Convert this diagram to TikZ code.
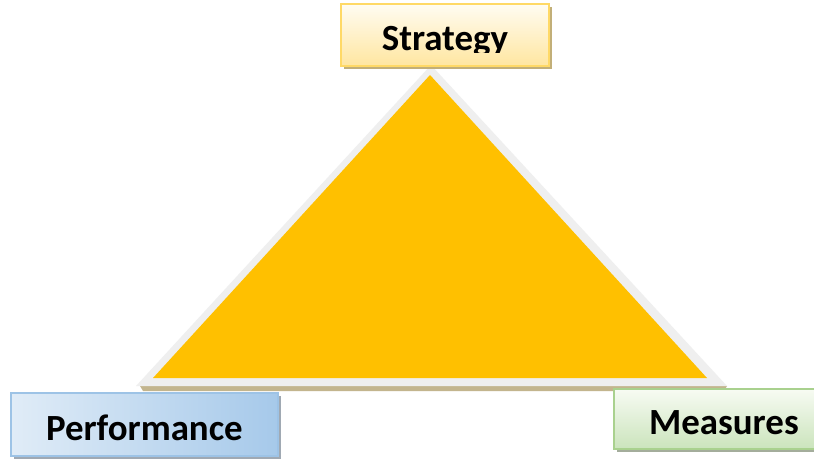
\documentclass[tikz,border=0pt]{standalone}
\usepackage{fontspec}
\setmainfont{Carlito}
\usetikzlibrary{shapes,positioning,calc,shadows}
\definecolor{tri}{HTML}{FFC000}
\definecolor{trib}{HTML}{EFEFEF}
\definecolor{tris}{HTML}{C3B58E}
\definecolor{ys1}{HTML}{FFFCF2}
\definecolor{ys2}{HTML}{FFE6A0}
\definecolor{yd}{HTML}{FFD966}
\definecolor{ysh}{HTML}{C2AF78}
\definecolor{bs1}{HTML}{E0ECF7}
\definecolor{bs2}{HTML}{A6C9EA}
\definecolor{bd}{HTML}{9DC3E6}
\definecolor{bsh}{HTML}{A0A9B3}
\definecolor{gs1}{HTML}{F7FBF3}
\definecolor{gs2}{HTML}{CBE4BC}
\definecolor{gd}{HTML}{A9D18E}
\definecolor{gsh}{HTML}{A4AD9C}

\begin{document}
\begin{tikzpicture}[x=0.02cm, y=-0.02cm,
      lbl/.style = {font=\fontsize{21}{25}\selectfont\bfseries, text height=18pt, text depth=0pt, inner sep=0pt},
      box/.style = {rectangle, lbl, line width=1.1pt, anchor=north west},
      bxs/.style = {box, draw=yd, top color=ys1, bottom color=ys2,
        drop shadow={shadow xshift=0.06cm, shadow yshift=-0.06cm, fill=ysh, opacity=1}},
      bxp/.style = {box, draw=bd, left color=bs1, right color=bs2,
        drop shadow={shadow xshift=0.06cm, shadow yshift=-0.06cm, fill=bsh, opacity=1}},
      bxm/.style = {box, draw=gd, top color=gs1, bottom color=gs2,
        drop shadow={shadow xshift=0.06cm, shadow yshift=-0.06cm, fill=gsh, opacity=1}}
      ]
      \clip (0,0) rectangle (814,459);
      \fill[white] (0,0) rectangle (814,459);

      % triangle
      \coordinate (otop) at (431,65);
      \coordinate (oleft) at (136,386);
      \coordinate (oright) at (727,386);
      \coordinate (itop) at (430,75);
      \coordinate (ileft) at (153,378);
      \coordinate (iright) at (707,378);
      \fill[tris] ($(oleft)+(4,0)$) -- (oright) -- ($(oright)+(-3,5)$) -- ($(oleft)+(7,5)$) -- cycle;
      \fill[trib] (otop) -- (oright) -- (oleft) -- cycle;
      \fill[tri] (itop) -- (iright) -- (ileft) -- cycle;

      % boxes
      \node[bxs, minimum width=4.16cm, minimum height=1.24cm] (strategy) at (340,3) {};
      \begin{scope}
        \clip (340,3) rectangle (548,53);
        \node[lbl] (strategytext) at (strategy) {Strategy};
      \end{scope}
      \node[bxp, minimum width=5.34cm, minimum height=1.26cm] (performance) at (10,392) {Performance};
      \node[bxm, minimum width=4.4cm, minimum height=1.2cm] (measures) at (613,388) {Measures};
    \end{tikzpicture}
\end{document}
